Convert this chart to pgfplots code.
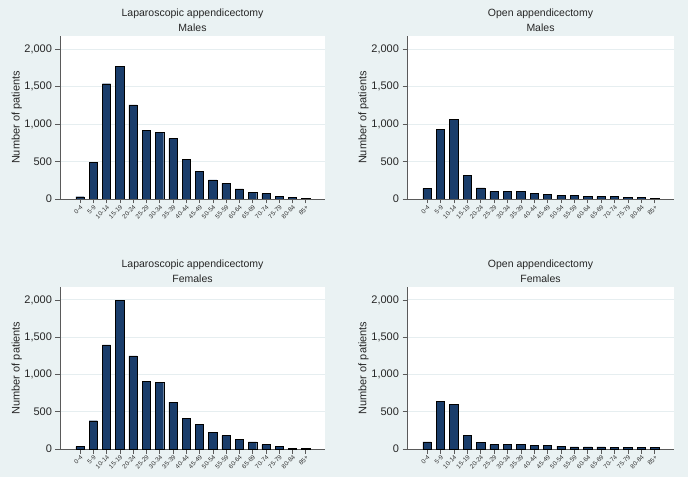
\documentclass[border=0pt]{standalone}
\usepackage{pgfplots}
\pgfplotsset{compat=1.18}
\usepackage{fontspec}
\setmainfont{Liberation Sans}
\definecolor{bgc}{RGB}{234,242,243}
\definecolor{barc}{RGB}{26,61,107}
\definecolor{gridc}{RGB}{230,238,240}
\definecolor{axc}{RGB}{90,90,90}
\pgfplotsset{panel/.style={
  scale only axis, anchor=south west,
  xmin=-1.5, xmax=18.45, ymin=0, ymax=2173,
  axis x line*=bottom, axis y line*=left,
  axis line style={axc, line width=0.6pt, -},
  axis background/.style={fill=white},
  ytick={0,500,1000,1500,2000},
  yticklabels={0,500,{1,000},{1,500},{2,000}},
  xtick={0,...,17},
  xticklabels={0-4,5-9,10-14,15-19,20-24,25-29,30-34,35-39,40-44,45-49,50-54,55-59,60-64,65-69,70-74,75-79,80-84,85+},
  x tick label style={rotate=45, anchor=north east, font=\fontsize{6.3}{6.3}\selectfont, inner sep=0.8pt, text=black!80},
  y tick label style={font=\fontsize{11}{11}\selectfont, text=black!85},
  tick align=outside, major tick length=4.5pt,
  tick style={axc, line width=0.5pt},
  ymajorgrids, grid style={gridc, line width=0.9pt},
  ylabel={Number of patients},
  ylabel style={at={(axis description cs:-0.13,0.5)}, anchor=south, font=\fontsize{11}{11}\selectfont, text=black!85},
  title style={at={(axis description cs:0.5,1)}, anchor=south, yshift=-5pt, align=center, font=\fontsize{10.5}{15}\selectfont, text=black!85},
  ybar, bar width=0.62,
  cycle list={{fill=barc, draw=barc!70!black, line width=0.4pt}},
}}
\begin{document}
\begin{tikzpicture}
\path[use as bounding box, fill=bgc] (0,0) rectangle (688pt,477pt);
% Top-left
\begin{axis}[panel, at={(60pt,278pt)}, width=265pt, height=163pt,
  title={Laparoscopic appendicectomy\\Males}]
\addplot coordinates {(0,30) (1,490) (2,1537) (3,1773) (4,1256) (5,913) (6,886) (7,806) (8,526) (9,365) (10,254) (11,209) (12,134) (13,93) (14,71) (15,36) (16,18) (17,13)};
\end{axis}
% Top-right
\begin{axis}[panel, at={(407pt,278pt)}, width=267pt, height=163pt,
  title={Open appendicectomy\\Males}]
\addplot coordinates {(0,143) (1,926) (2,1060) (3,316) (4,147) (5,102) (6,102) (7,98) (8,76) (9,62) (10,45) (11,45) (12,31) (13,31) (14,31) (15,18) (16,18) (17,13)};
\end{axis}
% Bottom-left
\begin{axis}[panel, at={(60pt,28pt)}, width=265pt, height=162pt,
  title={Laparoscopic appendicectomy\\Females}]
\addplot coordinates {(0,31) (1,379) (2,1397) (3,1995) (4,1250) (5,906) (6,893) (7,629) (8,415) (9,326) (10,223) (11,179) (12,134) (13,94) (14,58) (15,36) (16,13) (17,9)};
\end{axis}
% Bottom-right
\begin{axis}[panel, at={(407pt,28pt)}, width=267pt, height=162pt,
  title={Open appendicectomy\\Females}]
\addplot coordinates {(0,94) (1,643) (2,603) (3,179) (4,85) (5,58) (6,67) (7,58) (8,45) (9,45) (10,40) (11,27) (12,27) (13,27) (14,18) (15,18) (16,18) (17,18)};
\end{axis}
\end{tikzpicture}
\end{document}
